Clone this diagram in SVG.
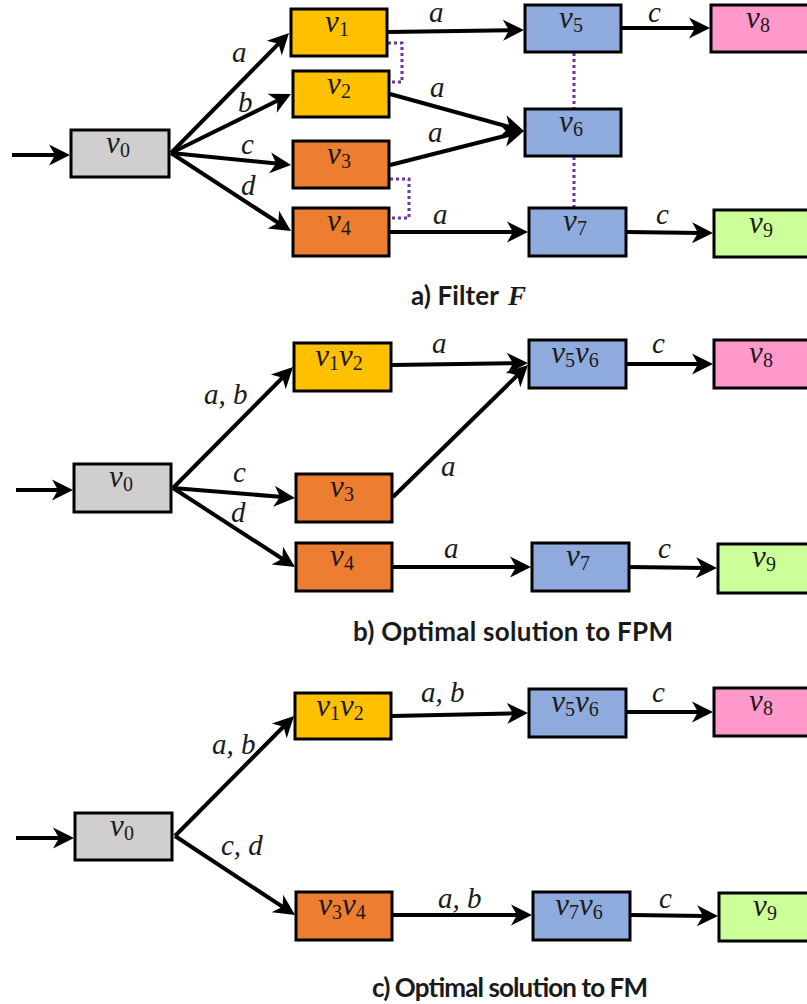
<svg xmlns="http://www.w3.org/2000/svg" width="807" height="1004" viewBox="0 0 807 1004">
  <style>
    .box { stroke: #000; stroke-width: 3; }
    .gray { fill: #D0CECE; }
    .yellow { fill: #FFC000; }
    .orange { fill: #ED7D31; }
    .blue { fill: #8FAADC; }
    .pink { fill: #FF99CC; }
    .green { fill: #CCFF99; }
    .nl { font-family: "Liberation Serif", "DejaVu Serif", serif; font-style: italic; font-size: 31px; fill: #1a1a1a; text-anchor: middle; }
    .sub { font-style: normal; font-size: 20px; }
    .el { font-family: "Liberation Serif", "DejaVu Serif", serif; font-style: italic; font-size: 29px; fill: #1a1a1a; }
    .edge { stroke: #000; stroke-width: 4; fill: none; marker-end: url(#head); }
    .link { stroke: #7030A0; stroke-width: 3; stroke-dasharray: 3 3; fill: none; }
    .cap { font-family: Lato, "Liberation Sans", sans-serif; font-weight: bold; font-size: 26px; fill: #1a1a1a; }
  </style>
  <defs>
    <marker id="head" markerUnits="userSpaceOnUse" markerWidth="40" markerHeight="40" refX="0" refY="0" orient="auto" overflow="visible">
      <path d="M12,0 L-9,-10.5 L-3,0 L-9,10.5 Z" fill="#000"/>
    </marker>
  </defs>

  <!-- connectors -->
  <g id="connectors">
    <!-- a) filter -->
    <line class="edge" x1="12" y1="155" x2="58" y2="155"/>
    <line class="edge" x1="171" y1="153" x2="280.6" y2="41.6"/>
    <line class="edge" x1="171" y1="153" x2="280.2" y2="99.3"/>
    <line class="edge" x1="171" y1="153" x2="279.1" y2="163.8"/>
    <line class="edge" x1="171" y1="153" x2="280.9" y2="224.5"/>
    <line class="edge" x1="388" y1="32" x2="512" y2="30.2"/>
    <line class="edge" x1="390" y1="94" x2="512.4" y2="127.8"/>
    <line class="edge" x1="390" y1="165" x2="512.4" y2="134"/>
    <line class="edge" x1="390" y1="232" x2="516" y2="232"/>
    <line class="edge" x1="622" y1="28" x2="698" y2="28"/>
    <line class="edge" x1="627" y1="232" x2="701" y2="232.9"/>
    <path class="link" d="M388,43 H402 V82 H390"/>
    <path class="link" d="M390,179 H409 V218 H392"/>
    <path class="link" d="M574,53 V108 M574,157 V207"/>

    <!-- b) FPM -->
    <line class="edge" x1="16" y1="490" x2="61" y2="490"/>
    <line class="edge" x1="173" y1="488" x2="284.6" y2="375.5"/>
    <line class="edge" x1="173" y1="488" x2="283" y2="497"/>
    <line class="edge" x1="173" y1="488" x2="284.9" y2="560.5"/>
    <line class="edge" x1="392" y1="365" x2="516" y2="363.2"/>
    <line class="edge" x1="393" y1="497" x2="519.4" y2="373.4"/>
    <line class="edge" x1="393" y1="567" x2="519" y2="567"/>
    <line class="edge" x1="627" y1="364" x2="701" y2="364"/>
    <line class="edge" x1="630" y1="567" x2="705" y2="567.9"/>

    <!-- c) FM -->
    <line class="edge" x1="16" y1="838" x2="62" y2="838"/>
    <line class="edge" x1="175" y1="836" x2="285.6" y2="724.5"/>
    <line class="edge" x1="175" y1="836" x2="285" y2="908.4"/>
    <line class="edge" x1="392" y1="716" x2="516" y2="713.3"/>
    <line class="edge" x1="627" y1="712" x2="701" y2="712"/>
    <line class="edge" x1="393" y1="915" x2="520" y2="915"/>
    <line class="edge" x1="631" y1="915" x2="706" y2="915.9"/>
  </g>

  <!-- edge labels -->
  <g id="edge-labels">
    <text class="el" x="232" y="62">a</text>
    <text class="el" x="238" y="112">b</text>
    <text class="el" x="241" y="154">c</text>
    <text class="el" x="241" y="195">d</text>
    <text class="el" x="429" y="22">a</text>
    <text class="el" x="648" y="22">c</text>
    <text class="el" x="430" y="97">a</text>
    <text class="el" x="428" y="142">a</text>
    <text class="el" x="433" y="224">a</text>
    <text class="el" x="656" y="224">c</text>

    <text class="el" x="204" y="404">a, b</text>
    <text class="el" x="233" y="482">c</text>
    <text class="el" x="231" y="522">d</text>
    <text class="el" x="432" y="353">a</text>
    <text class="el" x="441" y="476">a</text>
    <text class="el" x="444" y="558">a</text>
    <text class="el" x="652" y="353">c</text>
    <text class="el" x="658" y="558">c</text>

    <text class="el" x="212" y="754">a, b</text>
    <text class="el" x="221" y="855">c, d</text>
    <text class="el" x="421" y="702">a, b</text>
    <text class="el" x="652" y="702">c</text>
    <text class="el" x="438" y="908">a, b</text>
    <text class="el" x="659" y="908">c</text>
  </g>

  <!-- a) filter nodes -->
  <g id="a-v0"><rect class="box gray" x="71" y="130" width="98" height="47"/><text class="nl" x="118" y="153">v<tspan class="sub" dy="4">0</tspan></text></g>
  <g id="a-v1"><rect class="box yellow" x="291" y="9" width="96" height="47"/><text class="nl" x="337" y="32">v<tspan class="sub" dy="4">1</tspan></text></g>
  <g id="a-v2"><rect class="box yellow" x="293" y="71" width="96" height="46"/><text class="nl" x="339" y="94">v<tspan class="sub" dy="4">2</tspan></text></g>
  <g id="a-v3"><rect class="box orange" x="293" y="141" width="96" height="47"/><text class="nl" x="339" y="164">v<tspan class="sub" dy="4">3</tspan></text></g>
  <g id="a-v4"><rect class="box orange" x="293" y="208" width="96" height="48"/><text class="nl" x="339" y="231">v<tspan class="sub" dy="4">4</tspan></text></g>
  <g id="a-v5"><rect class="box blue" x="525" y="5" width="96" height="47"/><text class="nl" x="571" y="28">v<tspan class="sub" dy="4">5</tspan></text></g>
  <g id="a-v6"><rect class="box blue" x="525" y="109" width="96" height="47"/><text class="nl" x="571" y="132">v<tspan class="sub" dy="4">6</tspan></text></g>
  <g id="a-v7"><rect class="box blue" x="529" y="208" width="97" height="48"/><text class="nl" x="575" y="231">v<tspan class="sub" dy="4">7</tspan></text></g>
  <g id="a-v8"><rect class="box pink" x="711" y="5" width="100" height="47"/><text class="nl" x="758" y="28">v<tspan class="sub" dy="4">8</tspan></text></g>
  <g id="a-v9"><rect class="box green" x="714" y="210" width="100" height="47"/><text class="nl" x="761" y="233">v<tspan class="sub" dy="4">9</tspan></text></g>

  <!-- b) FPM nodes -->
  <g id="b-v0"><rect class="box gray" x="74" y="464" width="97" height="48"/><text class="nl" x="121" y="487">v<tspan class="sub" dy="4">0</tspan></text></g>
  <g id="b-v1v2"><rect class="box yellow" x="294" y="343" width="97" height="48"/><text class="nl" x="339" y="366">v<tspan class="sub" dy="4">1</tspan><tspan dy="-4">v</tspan><tspan class="sub" dy="4">2</tspan></text></g>
  <g id="b-v3"><rect class="box orange" x="296" y="474" width="96" height="48"/><text class="nl" x="342" y="497">v<tspan class="sub" dy="4">3</tspan></text></g>
  <g id="b-v4"><rect class="box orange" x="296" y="543" width="96" height="48"/><text class="nl" x="342" y="566">v<tspan class="sub" dy="4">4</tspan></text></g>
  <g id="b-v5v6"><rect class="box blue" x="529" y="340" width="97" height="48"/><text class="nl" x="575" y="363">v<tspan class="sub" dy="4">5</tspan><tspan dy="-4">v</tspan><tspan class="sub" dy="4">6</tspan></text></g>
  <g id="b-v8"><rect class="box pink" x="714" y="340" width="100" height="48"/><text class="nl" x="761" y="363">v<tspan class="sub" dy="4">8</tspan></text></g>
  <g id="b-v7"><rect class="box blue" x="532" y="543" width="97" height="48"/><text class="nl" x="578" y="566">v<tspan class="sub" dy="4">7</tspan></text></g>
  <g id="b-v9"><rect class="box green" x="718" y="544" width="100" height="49"/><text class="nl" x="764" y="567">v<tspan class="sub" dy="4">9</tspan></text></g>

  <!-- c) FM nodes -->
  <g id="c-v0"><rect class="box gray" x="75" y="813" width="97" height="47"/><text class="nl" x="122" y="836">v<tspan class="sub" dy="4">0</tspan></text></g>
  <g id="c-v1v2"><rect class="box yellow" x="295" y="693" width="96" height="46"/><text class="nl" x="340" y="716">v<tspan class="sub" dy="4">1</tspan><tspan dy="-4">v</tspan><tspan class="sub" dy="4">2</tspan></text></g>
  <g id="c-v3v4"><rect class="box orange" x="296" y="892" width="96" height="48"/><text class="nl" x="342" y="915">v<tspan class="sub" dy="4">3</tspan><tspan dy="-4">v</tspan><tspan class="sub" dy="4">4</tspan></text></g>
  <g id="c-v5v6"><rect class="box blue" x="529" y="689" width="97" height="48"/><text class="nl" x="575" y="712">v<tspan class="sub" dy="4">5</tspan><tspan dy="-4">v</tspan><tspan class="sub" dy="4">6</tspan></text></g>
  <g id="c-v8"><rect class="box pink" x="714" y="688" width="100" height="48"/><text class="nl" x="761" y="711">v<tspan class="sub" dy="4">8</tspan></text></g>
  <g id="c-v7v6"><rect class="box blue" x="533" y="892" width="97" height="48"/><text class="nl" x="579" y="915">v<tspan class="sub" dy="4">7</tspan><tspan dy="-4">v</tspan><tspan class="sub" dy="4">6</tspan></text></g>
  <g id="c-v9"><rect class="box green" x="719" y="893" width="100" height="48"/><text class="nl" x="765" y="916">v<tspan class="sub" dy="4">9</tspan></text></g>

  <!-- captions -->
  <g id="captions">
    <text class="cap" x="411" y="305" textLength="88" lengthAdjust="spacing">a) Filter</text>
    <text x="508" y="305" font-family="'Liberation Serif', 'DejaVu Serif', serif" font-weight="bold" font-style="italic" font-size="27" fill="#1a1a1a">F</text>
    <text class="cap" x="353" y="641" textLength="320" lengthAdjust="spacing">b) Optimal solution to FPM</text>
    <text class="cap" x="372" y="997" textLength="276" lengthAdjust="spacing">c) Optimal solution to FM</text>
  </g>
</svg>
